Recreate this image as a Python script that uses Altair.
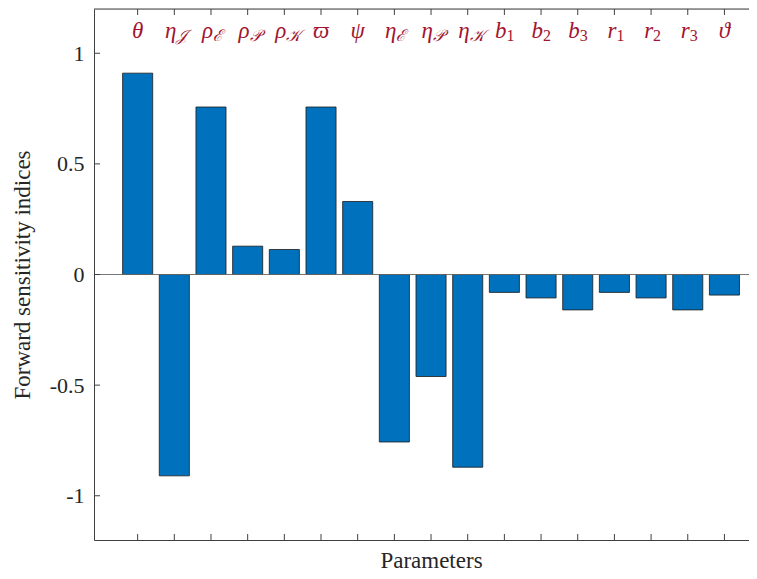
import altair as alt
import pandas as pd

# ---- data ----
label_main = ["θ", "η", "ρ", "ρ", "ρ", "ϖ", "ψ", "η", "η", "η", "b", "b", "b", "r", "r", "r", "ϑ"]
label_sub = ["", "𝒥", "ℰ", "𝒫", "𝒦", "", "", "ℰ", "𝒫", "𝒦", "1", "2", "3", "1", "2", "3", ""]
values = [0.91, -0.91, 0.757, 0.128, 0.113, 0.757, 0.33, -0.757, -0.461, -0.871,
          -0.081, -0.106, -0.16, -0.081, -0.106, -0.16, -0.093]
y_ticks = [-1, -0.5, 0, 0.5, 1]

W, H = 655, 531
FONT = "Liberation Serif"
AXC = "#404040"
TXT = "#262626"
RED = "#A2142F"

df = pd.DataFrame({
    "idx": list(range(1, len(values) + 1)),
    "main": label_main,
    "sub": label_sub,
    "value": values,
})
df["digit"] = df["sub"].str.isdigit()
df_yt = pd.DataFrame({"t": y_ticks})

xs = alt.Scale(domain=[-0.19, 17.67], nice=False, zero=False)
ys = alt.Scale(domain=[-1.2, 1.2], nice=False, zero=False)

x_axis = alt.Axis(
    title="Parameters", labels=False, ticks=False, grid=False,
    domainColor=AXC, domainWidth=1, titleFont=FONT, titleFontSize=23,
    titleFontWeight="normal", titleColor=TXT,
    titleX=337, titleY=20, titleBaseline="middle", titleAnchor="start", titleAlign="center")
y_axis = alt.Axis(
    title="Forward sensitivity indices", values=y_ticks, grid=False, ticks=False,
    labelPadding=10, labelFont=FONT, labelFontSize=22, labelColor=TXT,
    labelExpr="datum.value < 0 ? '-' + format(-datum.value, '') : format(datum.value, '')",
    domainColor=AXC, domainWidth=1, titleFont=FONT, titleFontSize=23,
    titleFontWeight="normal", titleColor=TXT,
    titleX=-72, titleY=H / 2, titleAngle=-90, titleBaseline="middle",
    titleAlign="center", titleAnchor="start")

base = alt.Chart(df)

bars = base.transform_calculate(
    x0="datum.idx - 0.41", x1="datum.idx + 0.41", zero="0"
).mark_rect(color="#0072BD", stroke="#1a1a1a", strokeWidth=0.8).encode(
    x=alt.X("x0:Q", scale=xs, axis=x_axis),
    x2="x1:Q",
    y=alt.Y("value:Q", scale=ys, axis=y_axis),
    y2="zero:Q",
)

zero_line = alt.Chart(df_yt).transform_filter("datum.t == 0").mark_rule(
    color="#666666", strokeWidth=0.9).encode(
    y=alt.Y("t:Q", scale=ys, axis=y_axis), x=alt.value(0), x2=alt.value(W))

top_line = alt.Chart(df_yt).transform_filter("datum.t == 0").mark_rule(
    color=AXC, strokeWidth=1).encode(y=alt.value(0), x=alt.value(0), x2=alt.value(W))

ytick_marks = alt.Chart(df_yt).mark_rule(color=AXC, strokeWidth=1).encode(
    y=alt.Y("t:Q", scale=ys, axis=y_axis), x=alt.value(0), x2=alt.value(6))

xtick_top = base.mark_rule(color=AXC, strokeWidth=1).encode(
    x=alt.X("idx:Q", scale=xs, axis=x_axis), y=alt.value(0), y2=alt.value(6))
xtick_bot = base.mark_rule(color=AXC, strokeWidth=1).encode(
    x=alt.X("idx:Q", scale=xs, axis=x_axis), y=alt.value(H - 6), y2=alt.value(H))

LY = 22
lab_single = base.transform_filter("datum.sub == ''").mark_text(
    font=FONT, fontSize=23, fontStyle="italic", color=RED, baseline="middle", align="center"
).encode(x=alt.X("idx:Q", scale=xs, axis=x_axis), y=alt.value(LY), text="main:N")

lab_main = base.transform_filter("datum.sub != ''").mark_text(
    font=FONT, fontSize=23, fontStyle="italic", color=RED, baseline="middle", align="right", dx=2
).encode(x=alt.X("idx:Q", scale=xs, axis=x_axis), y=alt.value(LY), text="main:N")

lab_sub_script = base.transform_filter("datum.sub != '' && !datum.digit").mark_text(
    font=FONT, fontSize=16, fontStyle="italic", color=RED, baseline="middle", align="left", dx=2
).encode(x=alt.X("idx:Q", scale=xs, axis=x_axis), y=alt.value(LY + 5), text="sub:N")

lab_sub_digit = base.transform_filter("datum.digit").mark_text(
    font=FONT, fontSize=16, color=RED, baseline="middle", align="left", dx=2
).encode(x=alt.X("idx:Q", scale=xs, axis=x_axis), y=alt.value(LY + 5), text="sub:N")

chart = alt.layer(
    bars, zero_line, top_line, ytick_marks, xtick_top, xtick_bot,
    lab_single, lab_main, lab_sub_script, lab_sub_digit
).properties(
    width=W, height=H,
    autosize=alt.AutoSizeParams(type="none"),
    padding={"left": 86, "top": 1, "right": 0, "bottom": 31},
).configure_view(stroke=None).configure(background="white")

chart.save("out.html", embed_options={"renderer": "svg", "actions": False})
